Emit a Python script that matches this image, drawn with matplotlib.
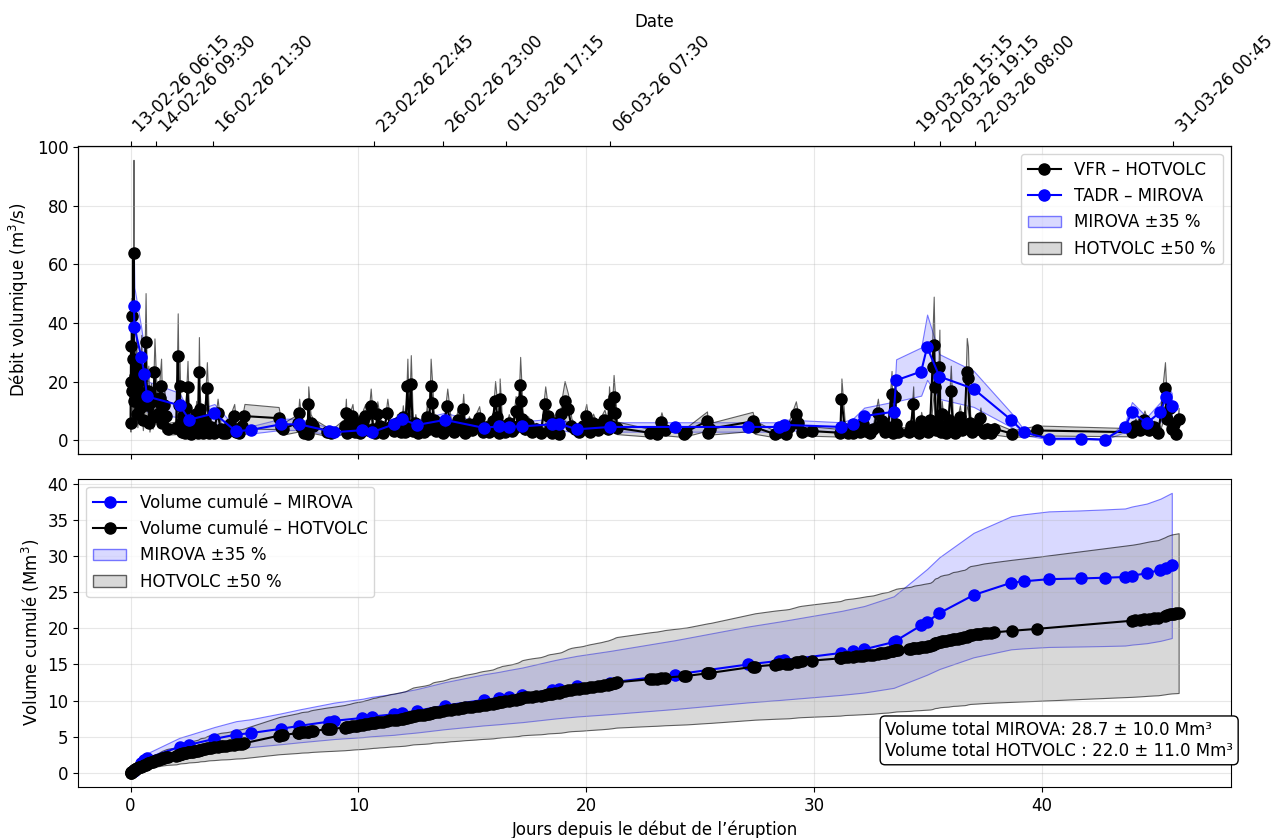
import numpy as np
import pandas as pd
import matplotlib
matplotlib.use("Agg")
import matplotlib.pyplot as plt
from matplotlib.lines import Line2D
from matplotlib.patches import Patch

plt.rcParams['font.family'] = ['DejaVu Sans']
plt.rcParams['font.size'] = 12

# HOTVOLC : temps (jours depuis le début) et VFR (m3/s)
t_hotvolc = [0.00, 0.02, 0.04, 0.06, 0.08, 0.10, 0.13, 0.15, 0.18, 0.21, 0.24, 0.27, 0.30, 0.34,
             0.38, 0.42, 0.47, 0.54, 0.60, 0.66, 0.72, 0.78, 0.83, 0.90, 0.97, 1.05, 1.12, 1.20,
             1.28, 1.34, 1.40, 1.47, 1.56, 1.65,
             2.00, 2.07, 2.11, 2.15, 2.20, 2.26, 2.32, 2.38, 2.44, 2.50, 2.57, 2.65, 2.72, 2.80,
             2.88, 2.95, 3.00, 3.04, 3.10, 3.18, 3.25, 3.35, 3.46, 3.55, 3.65, 3.82, 3.95, 4.05,
             4.20, 4.35, 4.55, 4.65, 4.77, 4.88, 5.00,
             6.50, 6.60, 6.70, 7.35, 7.40, 7.50, 7.60, 7.77, 7.80, 7.90, 8.00, 8.64, 8.70, 8.80,
             9.40, 9.45, 9.50, 9.60, 9.74, 9.85, 9.95, 10.05, 10.20, 10.30, 10.40, 10.54, 10.65,
             10.75, 10.83, 10.95, 11.10, 11.27, 11.40, 11.56, 11.70, 11.85, 11.95, 12.05, 12.15,
             12.22, 12.30, 12.40, 12.50, 12.60, 12.75, 12.90, 13.00, 13.10, 13.17, 13.24, 13.30,
             13.40, 13.55, 13.70, 13.90, 14.05, 14.20, 14.35, 14.50, 14.60, 14.70, 14.85, 15.00,
             15.15, 15.30, 15.45, 15.60, 15.75, 15.90, 16.00, 16.10, 16.16, 16.20, 16.30, 16.45,
             16.60, 16.75, 16.90, 17.00, 17.10, 17.15, 17.20, 17.30, 17.45, 17.60, 17.80, 18.00,
             18.20, 18.30, 18.40, 18.50, 18.65, 18.80, 18.90, 19.05, 19.20, 19.35, 19.50, 19.70,
             19.85, 20.00, 20.15, 20.30, 20.50, 20.65, 20.80, 20.95, 21.00, 21.10, 21.20, 21.28,
             21.35, 22.80, 22.95, 23.10, 23.30, 23.45, 24.30, 24.40, 25.30, 25.35, 25.45, 27.30,
             27.40, 28.30, 28.45, 28.75, 28.90, 29.20, 29.30, 29.45, 29.90,
             31.15, 31.20, 31.35, 31.50, 31.70, 31.85, 32.00, 32.15, 32.30, 32.45, 32.60, 32.80,
             32.90, 33.00, 33.10, 33.25, 33.40, 33.45, 33.55, 33.60, 33.70,
             34.15, 34.25, 34.35, 34.40, 34.50, 34.60, 34.70, 34.80, 34.90, 35.00, 35.10, 35.20,
             35.25, 35.30, 35.35, 35.40, 35.50, 35.55, 35.60, 35.70, 35.80, 35.90, 36.00, 36.10,
             36.20, 36.30, 36.40, 36.50, 36.60, 36.70, 36.75, 36.85, 36.95, 37.10, 37.20, 37.30,
             37.45, 37.60, 37.75, 37.90, 38.70, 39.80,
             43.95, 44.10, 44.30, 44.50, 44.70, 44.90, 45.10, 45.40, 45.50, 45.60, 45.70, 45.80,
             45.90, 46.00]
vfr_hotvolc = [6.0, 32.3, 20.0, 42.6, 16.9, 27.8, 63.8, 13.5, 22.0, 14.0, 26.0, 18.0, 9.0, 20.0,
               16.0, 11.0, 24.0, 7.0, 15.0, 33.5, 12.0, 17.0, 6.0, 13.0, 8.0, 23.2, 14.0, 9.0,
               14.6, 18.6, 6.0, 12.0, 8.3, 4.0,
               4.3, 28.9, 12.0, 18.6, 6.0, 3.0, 8.5, 2.4, 11.0, 18.1, 5.0, 2.1, 6.5, 3.5,
               9.0, 2.5, 23.5, 10.6, 5.0, 2.4, 7.0, 17.8, 2.6, 4.5, 2.4, 9.5, 4.0, 2.4,
               2.6, 5.5, 8.3, 3.0, 2.6, 5.0, 8.3,
               7.6, 4.5, 4.0, 6.0, 9.5, 4.5, 2.4, 2.1, 12.3, 6.0, 5.0, 3.0, 3.0, 2.4,
               5.0, 9.5, 2.6, 6.0, 8.3, 3.0, 5.5, 2.4, 7.0, 8.3, 3.5, 11.8, 4.0,
               2.6, 8.9, 5.0, 2.4, 9.5, 4.5, 3.2, 6.0, 2.8, 8.0, 3.0, 18.6,
               5.0, 19.4, 3.2, 6.0, 2.6, 5.0, 3.0, 8.0, 4.0, 18.6, 12.9, 7.0,
               3.2, 5.0, 2.6, 11.8, 5.0, 3.0, 7.0, 4.0, 10.6, 2.6, 5.5, 3.5,
               6.0, 7.8, 2.8, 4.5, 3.0, 6.5, 13.5, 8.0, 2.6, 14.1, 5.0, 3.0,
               6.0, 3.2, 10.1, 5.0, 19.0, 13.5, 7.2, 3.8, 5.5, 2.8, 4.0, 2.6,
               12.3, 8.3, 4.0, 2.6, 6.0, 2.1, 8.9, 13.5, 10.6, 5.0, 3.8, 2.8,
               5.0, 8.3, 3.0, 6.1, 3.5, 5.5, 7.0, 4.0, 12.3, 5.0, 14.9, 9.5,
               4.3, 2.6, 3.0, 2.1, 6.4, 3.5, 2.3, 3.0, 6.6, 2.6, 4.0, 6.5,
               4.5, 2.1, 3.0, 2.1, 4.5, 8.9, 6.1, 3.0, 3.2,
               2.6, 14.1, 4.0, 2.6, 2.6, 4.5, 3.0, 5.5, 3.2, 2.6, 4.0, 9.5,
               5.0, 6.6, 3.0, 4.5, 15.8, 2.6, 14.8, 5.5, 3.0,
               3.0, 5.0, 12.3, 3.5, 4.0, 2.5, 6.5, 4.0, 5.0, 2.8, 7.0, 25.0,
               32.7, 18.2, 3.5, 6.0, 25.2, 3.0, 9.0, 4.5, 2.6, 7.0, 17.0, 4.0,
               2.6, 5.5, 8.0, 3.5, 4.5, 23.3, 21.4, 6.0, 3.0, 5.0, 4.0, 7.5,
               2.6, 4.0, 2.6, 4.0, 2.3, 3.4,
               2.8, 5.0, 3.5, 6.8, 3.4, 4.5, 2.6, 17.8, 7.4, 11.0, 4.0, 5.5,
               2.3, 7.4]

# MIROVA : temps, TADR (m3/s) et volume cumulé (Mm3)
t_mirova = [0.15, 0.17, 0.47, 0.61, 0.72, 2.15, 2.58, 3.68, 4.63, 5.28, 6.60, 7.40, 8.72, 8.93,
            10.18, 10.60, 11.56, 11.93, 12.58, 13.80, 15.50, 16.16, 16.60, 17.20, 18.50, 18.80,
            19.60, 21.05, 23.90, 27.10, 28.45, 28.70, 31.20, 31.70, 32.20, 33.50, 33.60, 34.70,
            34.96, 35.50, 37.00, 38.65, 39.20, 40.30, 41.70, 42.75, 43.65, 43.95, 44.60, 45.20,
            45.45, 45.70]
tadr_mirova = [46.0, 38.6, 28.5, 22.6, 15.0, 12.0, 7.1, 9.2, 3.1, 3.6, 5.5, 5.5, 3.2, 2.8,
               3.5, 2.8, 5.5, 7.2, 5.3, 7.0, 4.3, 4.8, 4.7, 4.8, 5.5, 5.7,
               3.8, 4.6, 4.6, 4.6, 4.6, 5.3, 4.6, 5.5, 8.3, 9.8, 20.5, 23.5,
               31.8, 21.8, 17.6, 7.0, 2.8, 0.6, 0.6, 0.3, 4.5, 9.7, 5.9, 9.7,
               14.8, 11.9]
vol_mirova = [0.3, 0.4, 1.3, 1.8, 2.0, 3.6, 3.9, 4.7, 5.3, 5.5, 6.1, 6.5, 7.1, 7.2,
              7.6, 7.8, 8.1, 8.3, 8.6, 9.3, 10.1, 10.35, 10.55, 10.8, 11.5, 11.65,
              12.0, 12.5, 13.6, 15.0, 15.5, 15.6, 16.6, 16.85, 17.1, 18.1, 18.3, 20.4,
              20.9, 22.1, 24.6, 26.3, 26.5, 26.8, 26.9, 27.0, 27.1, 27.3, 27.6, 28.1,
              28.4, 28.7]

date_ticks = ["13-02-26 06:15", "14-02-26 09:30", "16-02-26 21:30", "23-02-26 22:45",
              "26-02-26 23:00", "01-03-26 17:15", "06-03-26 07:30", "19-03-26 15:15",
              "20-03-26 19:15", "22-03-26 08:00", "31-03-26 00:45"]
start = "13-02-26 06:15"

t_h = np.array(t_hotvolc)
v_h = np.array(vfr_hotvolc)
t_m = np.array(t_mirova)
v_m = np.array(tadr_mirova)
vol_m = np.array(vol_mirova)

# volume cumulé HOTVOLC : intégration du VFR (trapèzes), en Mm3
vol_h = np.concatenate([[0], np.cumsum(np.diff(t_h) * 86400 * (v_h[1:] + v_h[:-1]) / 2)]) / 1e6

fig = plt.figure(figsize=(12.81, 8.38), dpi=100)
fig.subplots_adjust(left=0.061, right=0.961, top=0.826, bottom=0.061, hspace=0.081)
ax1 = fig.add_subplot(2, 1, 1)
ax2 = fig.add_subplot(2, 1, 2, sharex=ax1)

blue_face = (0, 0, 1, 0.15)
blue_edge = (0, 0, 1, 0.5)
grey_face = (0.5, 0.5, 0.5, 0.3)
grey_edge = (0, 0, 0, 0.6)

# --- débit ---
ax1.fill_between(t_m, v_m * 0.65, v_m * 1.35, facecolor=blue_face, edgecolor=blue_edge, lw=0.8, zorder=1)
ax1.fill_between(t_h, v_h * 0.5, v_h * 1.5, facecolor=grey_face, edgecolor=grey_edge, lw=0.8, zorder=1)
ax1.plot(t_h, v_h, '-o', color='black', ms=8, lw=1.5, zorder=3)
ax1.plot(t_m, v_m, '-o', color='blue', ms=8, lw=1.5, zorder=4)
ax1.set_ylabel("Débit volumique (m$^3$/s)")
ax1.grid(True, alpha=0.3)
ax1.tick_params(labelbottom=False)
ax1.set_yticks([0, 20, 40, 60, 80, 100])

h1 = [Line2D([], [], color='black', marker='o', ms=8, lw=1.5),
      Line2D([], [], color='blue', marker='o', ms=8, lw=1.5),
      Patch(facecolor=blue_face, edgecolor=blue_edge),
      Patch(facecolor=grey_face, edgecolor=grey_edge)]
ax1.legend(h1, ["VFR – HOTVOLC", "TADR – MIROVA", "MIROVA ±35 %", "HOTVOLC ±50 %"],
           loc='upper right')

# --- volume cumulé ---
ax2.fill_between(t_m, vol_m * 0.65, vol_m * 1.35, facecolor=blue_face, edgecolor=blue_edge, lw=0.8, zorder=1)
ax2.fill_between(t_h, vol_h * 0.5, vol_h * 1.5, facecolor=grey_face, edgecolor=grey_edge, lw=0.8, zorder=1)
ax2.plot(t_m, vol_m, '-o', color='blue', ms=8, lw=1.5, zorder=3)
ax2.plot(t_h, vol_h, '-o', color='black', ms=8, lw=1.5, zorder=4)
ax2.set_ylabel("Volume cumulé (Mm$^3$)")
ax2.set_xlabel("Jours depuis le début de l’éruption")
ax2.grid(True, alpha=0.3)
ax2.set_yticks(np.arange(0, 41, 5))

h2 = [Line2D([], [], color='blue', marker='o', ms=8, lw=1.5),
      Line2D([], [], color='black', marker='o', ms=8, lw=1.5),
      Patch(facecolor=blue_face, edgecolor=blue_edge),
      Patch(facecolor=grey_face, edgecolor=grey_edge)]
ax2.legend(h2, ["Volume cumulé – MIROVA", "Volume cumulé – HOTVOLC", "MIROVA ±35 %", "HOTVOLC ±50 %"],
           loc='upper left')

ax2.text(0.700, 0.088,
         "Volume total MIROVA: 28.7 ± 10.0 Mm³\nVolume total HOTVOLC : 22.0 ± 11.0 Mm³",
         transform=ax2.transAxes, ha='left', va='bottom', fontsize=12,
         bbox=dict(boxstyle='round,pad=0.3', facecolor='white', edgecolor='black'))

ax2.set_xticks([0, 10, 20, 30, 40])

# --- axe des dates en haut ---
ax_top = ax1.twiny()
ax_top.set_xlim(ax1.get_xlim())
d = pd.to_datetime(date_ticks, format="%d-%m-%y %H:%M")
d0 = pd.to_datetime(start, format="%d-%m-%y %H:%M")
pos = (d - d0).total_seconds() / 86400
ax_top.set_xticks(pos)
ax_top.set_xticklabels(date_ticks, rotation=45, ha='left', fontsize=12)
ax_top.set_xlabel("Date")

fig.savefig("out.png", dpi=100)
